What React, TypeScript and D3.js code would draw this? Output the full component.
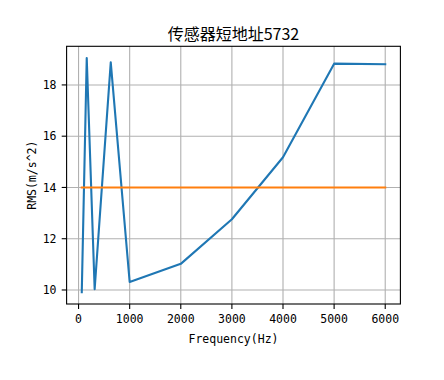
import React from "react";
import * as d3 from "d3";

const title = "传感器短地址5732";
const xLabel = "Frequency(Hz)";
const yLabel = "RMS(m/s^2)";
const frequencies = [63, 160, 315, 630, 1000, 2000, 3000, 4000, 5000, 6000];
const rmsValues = [9.91, 19.05, 10.03, 18.88, 10.31, 11.02, 12.76, 15.18, 18.83, 18.81];
const thresholdValues = [14, 14, 14, 14, 14, 14, 14, 14, 14, 14];
const xTicks = [0, 1000, 2000, 3000, 4000, 5000, 6000];
const yTicks = [10, 12, 14, 16, 18];

const W = 444;
const H = 380;
const left = 66.6;
const right = 400.4;
const top = 46.3;
const bottom = 304;

function pad(ext: [number, number]): [number, number] {
  const r = ext[1] - ext[0];
  return [ext[0] - 0.05 * r, ext[1] + 0.05 * r];
}

export default function App() {
  const xExt = d3.extent(frequencies) as [number, number];
  const allY = [...rmsValues, ...thresholdValues];
  const yExt = d3.extent(allY) as [number, number];
  const x = d3.scaleLinear().domain(pad(xExt)).range([left, right]);
  const y = d3.scaleLinear().domain(pad(yExt)).range([bottom, top]);
  const line = d3
    .line<number>()
    .x((_, i) => x(frequencies[i]))
    .y((d) => y(d));
  const mono = "'DejaVu Sans Mono', monospace";
  const grid = "#b0b0b0";
  return (
    <svg width={W} height={H} style={{ position: "absolute", left: 0, top: 0, background: "#fff" }}>
      <rect x={0} y={0} width={W} height={H} fill="#fff" />
      {xTicks.map((t) => (
        <line key={"gx" + t} x1={x(t)} x2={x(t)} y1={top} y2={bottom} stroke={grid} strokeWidth={1.1} />
      ))}
      {yTicks.map((t) => (
        <line key={"gy" + t} x1={left} x2={right} y1={y(t)} y2={y(t)} stroke={grid} strokeWidth={1.1} />
      ))}
      <path d={line(rmsValues) || ""} fill="none" stroke="#1f77b4" strokeWidth={2.1} strokeLinejoin="round" strokeLinecap="square" />
      <path d={line(thresholdValues) || ""} fill="none" stroke="#ff7f0e" strokeWidth={2.1} strokeLinecap="square" />
      <rect x={left} y={top} width={right - left} height={bottom - top} fill="none" stroke="#000" strokeWidth={1.1} />
      {xTicks.map((t) => (
        <g key={"tx" + t}>
          <line x1={x(t)} x2={x(t)} y1={bottom} y2={bottom + 4.9} stroke="#000" strokeWidth={1.1} />
          <text x={x(t)} y={323.3} textAnchor="middle" fontFamily={mono} fontSize={11.5} fill="#000">
            {t}
          </text>
        </g>
      ))}
      {yTicks.map((t) => (
        <g key={"ty" + t}>
          <line x1={left - 4.9} x2={left} y1={y(t)} y2={y(t)} stroke="#000" strokeWidth={1.1} />
          <text x={56.5} y={y(t) + 4.2} textAnchor="end" fontFamily={mono} fontSize={11.5} fill="#000">
            {t}
          </text>
        </g>
      ))}
      <text x={(left + right) / 2} y={342.7} textAnchor="middle" fontFamily={mono} fontSize={11.5} fill="#000">
        {xLabel}
      </text>
      <text
        transform={`translate(35.6, ${(top + bottom) / 2}) rotate(-90)`}
        textAnchor="middle"
        fontFamily={mono}
        fontSize={11.5}
        fill="#000"
      >
        {yLabel}
      </text>
      <text x={(left + right) / 2} y={39.5} textAnchor="middle" fontFamily="'Noto Sans CJK SC', sans-serif" fontSize={16} fill="#000">
        {title}
      </text>
    </svg>
  );
}
